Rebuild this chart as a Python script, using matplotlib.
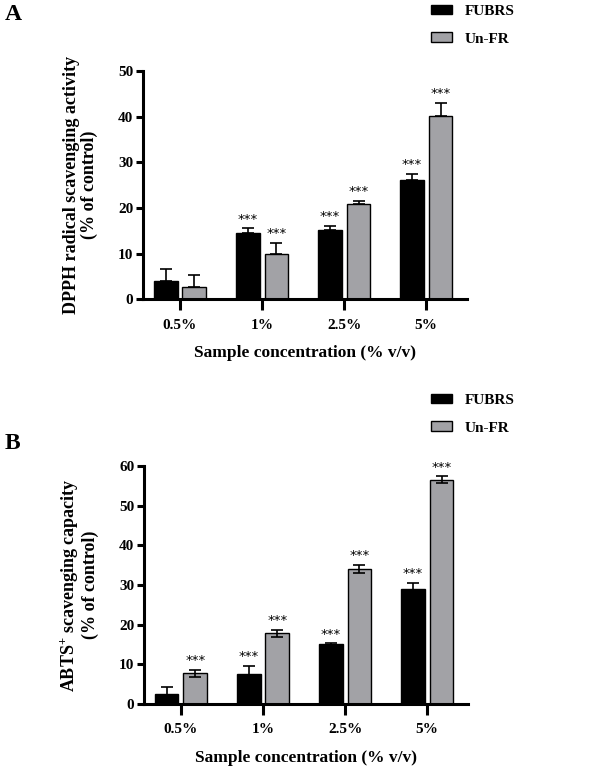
import matplotlib
matplotlib.use("Agg")
import matplotlib.pyplot as plt
import numpy as np
from matplotlib.patches import Patch

plt.rcParams['font.family'] = ['Liberation Serif', 'DejaVu Serif']
plt.rcParams['font.weight'] = 'bold'
plt.rcParams['mathtext.fontset'] = 'custom'
plt.rcParams['mathtext.rm'] = 'Liberation Serif:bold'
plt.rcParams['mathtext.bf'] = 'Liberation Serif:bold'

categories = ["0.5%", "1%", "2.5%", "5%"]

# panel A: DPPH
dpph_fubrs = [4.0, 14.4, 15.1, 26.2]
dpph_fubrs_err = [2.5, 1.1, 1.0, 1.2]
dpph_unfr = [2.7, 9.8, 20.8, 40.2]
dpph_unfr_err = [2.6, 2.5, 0.8, 2.9]
dpph_fubrs_sig = [False, True, True, True]
dpph_unfr_sig = [False, True, True, True]

# panel B: ABTS
abts_fubrs = [2.4, 7.6, 15.1, 28.9]
abts_fubrs_err = [2.0, 2.0, 0.2, 1.6]
abts_unfr = [7.8, 17.8, 34.0, 56.6]
abts_unfr_err = [0.9, 0.85, 1.0, 0.8]
abts_fubrs_sig = [False, True, True, True]
abts_unfr_sig = [True, True, True, True]

BLACK = "#000000"
GRAY = "#a2a2a6"

fig = plt.figure(figsize=(5.96, 7.69), dpi=100)


def panel(ax, fub, fub_err, unf, unf_err, fub_sig, unf_sig, ymax, ystep, ylabel, both_err):
    x = np.arange(len(categories))
    w = 0.29
    off = 0.175
    if both_err:
        fe = fub_err
        ue = unf_err
        ez = 3
    else:
        fe = [np.zeros(len(fub_err)), fub_err]
        ue = [np.zeros(len(unf_err)), unf_err]
        ez = 1
    ax.bar(x - off, fub, w, color=BLACK, edgecolor=BLACK, linewidth=1, zorder=2)
    ax.bar(x + off, unf, w, color=GRAY, edgecolor=BLACK, linewidth=1, zorder=2)
    ax.errorbar(x - off, fub, yerr=fe, fmt='none', ecolor=BLACK,
                elinewidth=1.2, capsize=4, capthick=1.2, zorder=ez)
    ax.errorbar(x + off, unf, yerr=ue, fmt='none', ecolor=BLACK,
                elinewidth=1.2, capsize=4, capthick=1.2, zorder=ez)
    for i in range(len(categories)):
        if fub_sig[i]:
            ax.annotate("***", (x[i] - off, fub[i] + fub_err[i]), xytext=(0, 2),
                        textcoords="offset points", ha="center", va="bottom",
                        fontsize=9.5, fontweight="normal", family="DejaVu Sans")
        if unf_sig[i]:
            ax.annotate("***", (x[i] + off, unf[i] + unf_err[i]), xytext=(0, 2),
                        textcoords="offset points", ha="center", va="bottom",
                        fontsize=9.5, fontweight="normal", family="DejaVu Sans")
    ax.set_xlim(-0.45, 3.5)
    ax.set_ylim(0, ymax)
    ax.set_yticks(np.arange(0, ymax + 1, ystep))
    ax.set_xticks(x)
    ax.set_xticklabels(categories)
    for s in ["top", "right"]:
        ax.spines[s].set_visible(False)
    for s in ["left", "bottom"]:
        ax.spines[s].set_linewidth(2.2)
    ax.tick_params(axis="y", length=5, width=2.2, labelsize=11, pad=2)
    ax.tick_params(axis="x", length=8, width=2.2, labelsize=11, pad=6)
    ax.set_xlabel("Sample concentration (% v/v)", fontsize=12.5, fontweight="bold", labelpad=10)
    ax.set_ylabel(ylabel, fontsize=13, fontweight="bold", linespacing=1.0)
    ax.yaxis.set_label_coords(-0.14, 0.5)


axA = fig.add_axes([0.240, 0.611, 0.544, 0.2965])
panel(axA, dpph_fubrs, dpph_fubrs_err, dpph_unfr, dpph_unfr_err, dpph_fubrs_sig, dpph_unfr_sig,
      50, 10, "DPPH radical scavenging activity\n(% of control)", False)

axB = fig.add_axes([0.2416, 0.0845, 0.544, 0.3095])
panel(axB, abts_fubrs, abts_fubrs_err, abts_unfr, abts_unfr_err, abts_fubrs_sig, abts_unfr_sig,
      60, 10, r"ABTS$^{+}$ scavenging capacity" + "\n(% of control)", True)

handles = [Patch(facecolor=BLACK, edgecolor=BLACK), Patch(facecolor=GRAY, edgecolor=BLACK)]
labels = ["FUBRS", "Un-FR"]
for ypos in [1.012, 0.506]:
    fig.legend(handles, labels, loc="upper left", bbox_to_anchor=(0.70, ypos), frameon=False,
               fontsize=11, handlelength=1.4, handleheight=0.6, labelspacing=0.95, handletextpad=0.8)

fig.text(0.008, 0.995, "A", fontsize=17, fontweight="bold", va="top")
fig.text(0.008, 0.437, "B", fontsize=17, fontweight="bold", va="top")

fig.savefig("out.png", dpi=100)
